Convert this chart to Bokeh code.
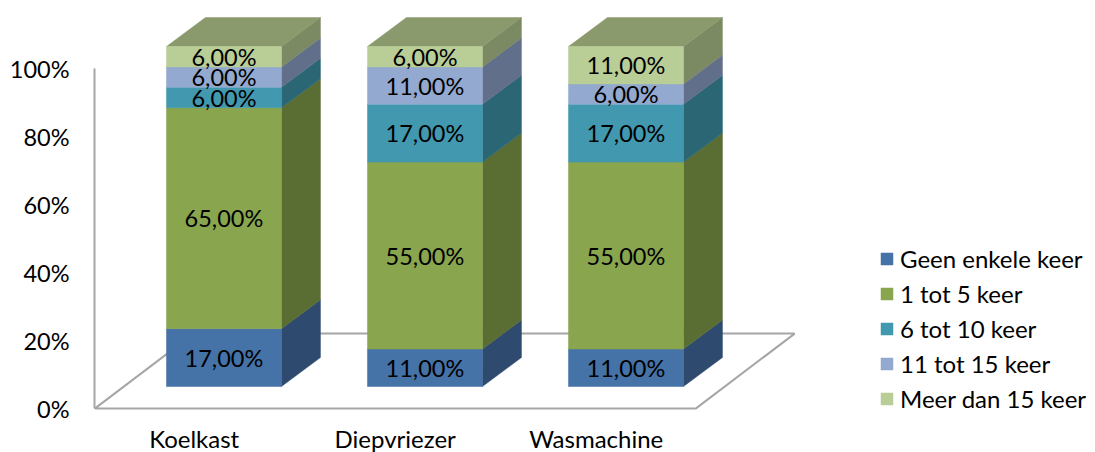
from bokeh.plotting import figure
from bokeh.models import (ColumnDataSource, Range1d, LinearAxis, FixedTicker,
                          PrintfTickFormatter, Legend, LegendItem)
from bokeh.core.properties import value
from bokeh.embed import file_html
from bokeh.resources import INLINE

# ---------------- data ----------------
categories = ["Koelkast", "Diepvriezer", "Wasmachine"]
series_names = ["Geen enkele keer", "1 tot 5 keer", "6 tot 10 keer",
                "11 tot 15 keer", "Meer dan 15 keer"]
geen_enkele_keer = [17, 11, 11]
een_tot_5_keer = [65, 55, 55]
zes_tot_10_keer = [6, 17, 17]
elf_tot_15_keer = [6, 11, 6]
meer_dan_15_keer = [6, 6, 11]
y_ticks = [0, 20, 40, 60, 80, 100]

series_values = [geen_enkele_keer, een_tot_5_keer, zes_tot_10_keer,
                 elf_tot_15_keer, meer_dan_15_keer]

# ---------------- style ----------------
front_colors = ["#4572A7", "#89A54E", "#4198AF", "#93A9CF", "#B9CD96"]
side_colors = ["#2E4B6F", "#5A6D33", "#2A6674", "#626F8B", "#7C8A64"]
top_color = "#8A9A6C"
line_gray = "#A6A6A6"
FONT = "Lato"

BAR_W = 0.572          # width of the front face (category units)
DX, DY = 0.194, 8.53   # 3-D depth offset of a bar
FLOOR_HALF = 1.495     # half width of the floor
FLOOR_FX, FLOOR_FY = -0.148, -6.5   # floor front edge relative to bar front
FLOOR_DX, FLOOR_DY = 0.4925, 22.06  # floor depth
CAT_LABEL_Y = -15.3

X0, X1 = -0.644, 4.336
Y0, Y1 = -19.41, 113.53

p = figure(width=1095, height=452, x_range=Range1d(X0, X1), y_range=Range1d(Y0, Y1),
           output_backend="svg", toolbar_location=None,
           x_axis_location=None, y_axis_location=None,
           min_border_left=94, min_border_right=0, min_border_top=0, min_border_bottom=0)
p.grid.visible = False
p.outline_line_color = None
p.background_fill_color = "white"
p.border_fill_color = "white"

n = len(categories)
center = (n - 1) / 2.0

# floor
fl = center - FLOOR_HALF + FLOOR_FX
fr = center + FLOOR_HALF + FLOOR_FX
p.patch([fl, fr, fr + FLOOR_DX, fl + FLOOR_DX],
        [FLOOR_FY, FLOOR_FY, FLOOR_FY + FLOOR_DY, FLOOR_FY + FLOOR_DY],
        fill_color=None, line_color=line_gray, line_width=2)

# stacked values
bottoms = [[0.0] * n]
for vals in series_values:
    prev = bottoms[-1]
    bottoms.append([prev[i] + vals[i] for i in range(n)])

xs_cat = list(range(n))

# side faces
for k, vals in enumerate(series_values):
    b, t = bottoms[k], bottoms[k + 1]
    xs, ys = [], []
    for i in range(n):
        xr = xs_cat[i] + BAR_W / 2
        xs.append([xr, xr + DX, xr + DX, xr])
        ys.append([b[i], b[i] + DY, t[i] + DY, t[i]])
    p.patches(xs, ys, fill_color=side_colors[k], line_color=side_colors[k], line_width=0.5)

# top faces
tops = bottoms[-1]
txs, tys = [], []
for i in range(n):
    xl, xr = xs_cat[i] - BAR_W / 2, xs_cat[i] + BAR_W / 2
    txs.append([xl, xr, xr + DX, xl + DX])
    tys.append([tops[i], tops[i], tops[i] + DY, tops[i] + DY])
p.patches(txs, tys, fill_color=top_color, line_color=top_color, line_width=0.5)

# front faces
legend_items = []
lab_x, lab_y, lab_t = [], [], []
for k, vals in enumerate(series_values):
    b, t = bottoms[k], bottoms[k + 1]
    src = ColumnDataSource(dict(x=xs_cat, bottom=b, top=t))
    r = p.vbar(x="x", bottom="bottom", top="top", width=BAR_W, source=src,
               fill_color=front_colors[k], line_color=front_colors[k], line_width=0.5)
    legend_items.append(LegendItem(label=series_names[k], renderers=[r]))
    for i in range(n):
        lab_x.append(xs_cat[i])
        lab_y.append((b[i] + t[i]) / 2)
        lab_t.append(("%.2f%%" % vals[i]).replace(".", ","))

p.text(x=lab_x, y=lab_y, text=lab_t, text_align="center", text_baseline="middle",
       text_font=value(FONT), text_font_size="23.5px", text_color="black")

# category labels (front edge of the floor)
p.text(x=[i + FLOOR_FX for i in xs_cat], y=[CAT_LABEL_Y] * n, text=categories,
       text_align="center", text_baseline="middle",
       text_font=value(FONT), text_font_size="24px", text_color="black")

# y axis
p.extra_y_ranges = {"axis": Range1d(Y0 - FLOOR_FY, Y1 - FLOOR_FY)}
ax = LinearAxis(y_range_name="axis", ticker=FixedTicker(ticks=y_ticks),
                formatter=PrintfTickFormatter(format="%d%%"), bounds=(0, 100),
                axis_line_color=line_gray, axis_line_width=2,
                major_tick_line_color=None, minor_tick_line_color=None,
                major_tick_out=0, major_tick_in=0, minor_tick_out=0, minor_tick_in=0,
                major_label_standoff=25, major_label_text_font=FONT,
                major_label_text_font_size="23.5px", major_label_text_color="black")
p.add_layout(ax, "left")

legend = Legend(items=legend_items, location=(785, 39), padding=0, margin=0,
                border_line_color=None, background_fill_alpha=0,
                glyph_width=15, glyph_height=15, label_standoff=6,
                spacing=6, label_height=29,
                label_text_font=FONT, label_text_font_size="24px",
                label_text_color="black")
p.add_layout(legend)

open("out.html", "w").write(file_html(p, INLINE))
